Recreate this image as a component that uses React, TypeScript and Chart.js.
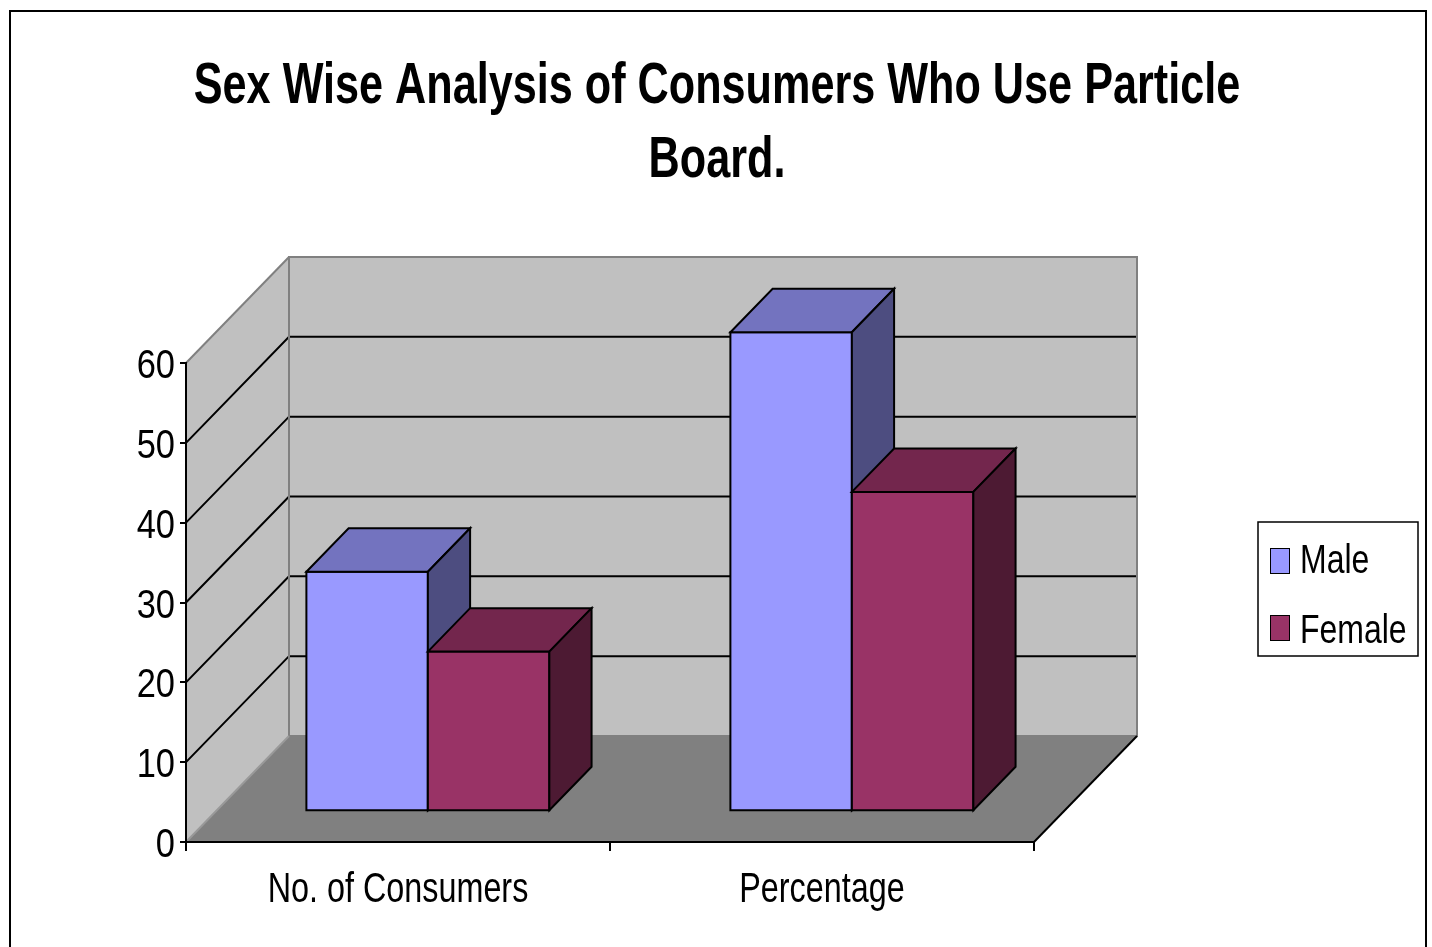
import React, { useEffect, useRef } from "react";
import { Chart, registerables } from "chart.js";

Chart.register(...registerables);

// ---- data ----
const categories = ["No. of Consumers", "Percentage"];
const seriesNames = ["Male", "Female"];
const maleValues = [30, 60];
const femaleValues = [20, 40];
const yMin = 0;
const yMax = 60;
const yStep = 10;
const titleLines = ["Sex Wise Analysis of Consumers Who Use Particle", "Board."];

// ---- styles ----
const FONT = "'Liberation Sans', Arial, sans-serif";
const frontColors = ["#9999FF", "#993366"];
const topColors = ["#7373BF", "#73264D"];
const sideColors = ["#4D4D80", "#4D1A33"];

const DEPTH_X = 103;
const DEPTH_Y = -106;
const BAR_FRONT = 0.29;
const BAR_DEPTH = 0.41;

function poly(ctx: CanvasRenderingContext2D, pts: number[][]) {
  ctx.beginPath();
  ctx.moveTo(pts[0][0], pts[0][1]);
  for (let i = 1; i < pts.length; i++) ctx.lineTo(pts[i][0], pts[i][1]);
  ctx.closePath();
}

// narrow text: draw with horizontal condensing
function narrowText(
  ctx: CanvasRenderingContext2D,
  text: string,
  x: number,
  y: number,
  align: CanvasTextAlign,
  sx: number,
  font: string
) {
  ctx.save();
  ctx.font = font;
  ctx.fillStyle = "#000";
  ctx.textBaseline = "alphabetic";
  ctx.textAlign = align;
  ctx.translate(x, y);
  ctx.scale(sx, 1);
  ctx.fillText(text, 0, 0);
  ctx.restore();
}

const threeDPlugin = {
  id: "threeD",
  beforeDraw(chart: any) {
    const { ctx, chartArea: ca, scales } = chart;
    const y = scales.y;
    ctx.save();
    ctx.fillStyle = "#FFFFFF";
    ctx.fillRect(0, 0, chart.width, chart.height);
    ctx.strokeStyle = "#000";
    ctx.lineWidth = 2;
    ctx.strokeRect(10, 11, 1416, 1000);

    const L = ca.left;
    const R = ca.right;
    const T = y.getPixelForValue(y.max);
    const B = y.getPixelForValue(y.min);
    const dx = DEPTH_X;
    const dy = DEPTH_Y;

    ctx.fillStyle = "#C0C0C0";
    poly(ctx, [[L, B], [L, T], [L + dx, T + dy], [L + dx, B + dy]]);
    ctx.fill();
    ctx.fillRect(L + dx, T + dy, R - L, B - T);
    ctx.fillStyle = "#808080";
    poly(ctx, [[L, B], [L + dx, B + dy], [R + dx, B + dy], [R, B]]);
    ctx.fill();

    ctx.strokeStyle = "#000";
    ctx.lineWidth = 2;
    for (const t of y.ticks) {
      if (t.value <= y.min || t.value >= y.max) continue;
      const py = y.getPixelForValue(t.value);
      ctx.beginPath();
      ctx.moveTo(L, py);
      ctx.lineTo(L + dx, py + dy);
      ctx.lineTo(R + dx, py + dy);
      ctx.stroke();
    }

    ctx.strokeStyle = "#808080";
    ctx.strokeRect(L + dx, T + dy, R - L, B - T);
    ctx.beginPath();
    ctx.moveTo(L, T);
    ctx.lineTo(L + dx, T + dy);
    ctx.stroke();
    ctx.strokeStyle = "#999999";
    ctx.beginPath();
    ctx.moveTo(L, B);
    ctx.lineTo(L + dx, B + dy);
    ctx.stroke();
    ctx.strokeStyle = "#000";
    ctx.beginPath();
    ctx.moveTo(R, B);
    ctx.lineTo(R + dx, B + dy);
    ctx.stroke();
    ctx.restore();
  },
  beforeDatasetsDraw(chart: any) {
    const { ctx } = chart;
    const fx = DEPTH_X * BAR_FRONT;
    const fy = DEPTH_Y * BAR_FRONT;
    const ddx = DEPTH_X * BAR_DEPTH;
    const ddy = DEPTH_Y * BAR_DEPTH;
    const n = chart.data.labels.length;
    ctx.save();
    ctx.strokeStyle = "#000";
    ctx.lineWidth = 2;
    for (let j = 0; j < n; j++) {
      chart.data.datasets.forEach((_: any, i: number) => {
        const meta = chart.getDatasetMeta(i);
        const el = meta.data[j];
        if (!el) return;
        const p = el.getProps(["x", "y", "base", "width"], true);
        const left = p.x - p.width / 2 + fx;
        const right = p.x + p.width / 2 + fx;
        const t = p.y + fy;
        const b = p.base + fy;
        ctx.fillStyle = frontColors[i];
        poly(ctx, [[left, t], [right, t], [right, b], [left, b]]);
        ctx.fill();
        ctx.stroke();
        ctx.fillStyle = topColors[i];
        poly(ctx, [[left, t], [left + ddx, t + ddy], [right + ddx, t + ddy], [right, t]]);
        ctx.fill();
        ctx.stroke();
        ctx.fillStyle = sideColors[i];
        poly(ctx, [[right, t], [right + ddx, t + ddy], [right + ddx, b + ddy], [right, b]]);
        ctx.fill();
        ctx.stroke();
      });
    }
    ctx.restore();
    return false;
  },
  afterDraw(chart: any) {
    const { ctx, scales } = chart;
    const x = scales.x;
    const y = scales.y;
    // title
    const titleFont = `bold 57px ${FONT}`;
    titleLines.forEach((line, i) => {
      narrowText(ctx, line, 717, 103 + i * 74, "center", 0.758, titleFont);
    });
    // y tick labels
    const tickFont = `41px ${FONT}`;
    for (const t of y.ticks) {
      const py = y.getPixelForValue(t.value);
      narrowText(ctx, String(t.value), x.left - 11, py + 15, "right", 0.84, tickFont);
    }
    // x category labels
    chart.data.labels.forEach((lab: string, i: number) => {
      narrowText(ctx, lab, x.getPixelForValue(i), 902, "center", 0.77, `42px ${FONT}`);
    });
    // legend
    ctx.save();
    ctx.fillStyle = "#FFFFFF";
    ctx.fillRect(1258, 522, 160, 134);
    ctx.strokeStyle = "#000";
    ctx.lineWidth = 1.5;
    ctx.strokeRect(1258, 522, 160, 134);
    chart.data.datasets.forEach((ds: any, i: number) => {
      const my = 548 + i * 67;
      ctx.fillStyle = frontColors[i];
      ctx.fillRect(1270, my, 19, 25);
      ctx.lineWidth = 1;
      ctx.strokeStyle = "#000";
      ctx.strokeRect(1270.5, my + 0.5, 19, 25);
      narrowText(ctx, ds.label, 1300, 573 + i * 70, "left", 0.78, tickFont);
    });
    ctx.restore();
  },
};

export default function App() {
  const ref = useRef<HTMLCanvasElement | null>(null);
  useEffect(() => {
    if (!ref.current) return;
    const chart = new Chart(ref.current, {
      type: "bar",
      data: {
        labels: categories,
        datasets: [
          { label: seriesNames[0], data: maleValues, backgroundColor: frontColors[0] },
          { label: seriesNames[1], data: femaleValues, backgroundColor: frontColors[1] },
        ],
      },
      options: {
        responsive: false,
        animation: false,
        devicePixelRatio: 1,
        layout: { padding: { top: 363, left: 0, right: 0, bottom: 0 } },
        datasets: { bar: { barPercentage: 1, categoryPercentage: 0.573 } },
        plugins: {
          legend: { display: false },
          tooltip: { enabled: false },
          title: { display: false },
        },
        scales: {
          x: {
            ticks: { display: false },
            grid: { display: true, drawOnChartArea: false, tickLength: 9, color: "#000", lineWidth: 2, offset: true },
            border: { display: true, color: "#000", width: 2 },
            afterFit: (s: any) => { s.height = 105; },
          },
          y: {
            min: yMin,
            max: yMax,
            ticks: { display: false, stepSize: yStep },
            grid: { display: true, drawOnChartArea: false, tickLength: 6, color: "#000", lineWidth: 2 },
            border: { display: true, color: "#000", width: 2 },
            afterFit: (s: any) => { s.width = 186; },
          },
          y2: {
            position: "right",
            display: true,
            ticks: { display: false },
            grid: { display: false },
            border: { display: false },
            afterFit: (s: any) => { s.width = 398; },
          },
        },
      } as any,
      plugins: [threeDPlugin],
    });
    return () => chart.destroy();
  }, []);
  return (
    <div style={{ position: "absolute", left: 0, top: 0, width: 1432, height: 947 }}>
      <canvas ref={ref} width={1432} height={947} style={{ display: "block" }} />
    </div>
  );
}
